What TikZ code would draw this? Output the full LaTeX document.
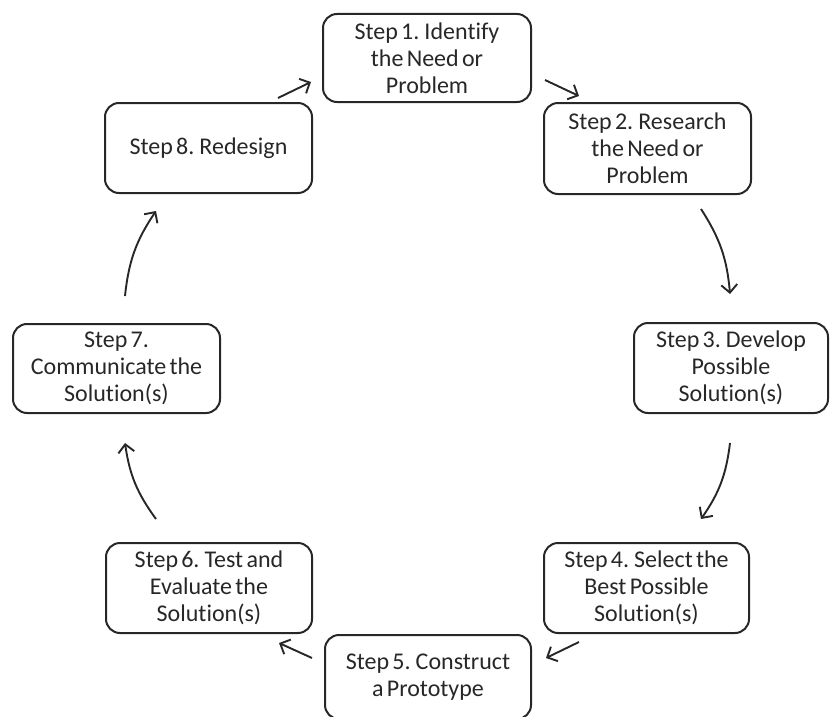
\documentclass[tikz,border=0pt]{standalone}
\usepackage{fontspec}
\setmainfont{Carlito}[Ligatures=NoCommon, WordSpace=0.6]
\usetikzlibrary{arrows.meta}
\definecolor{ink}{HTML}{272727}
\tikzset{
  stepbox/.style={draw=ink, line width=2pt, rounded corners=14pt,
    text=ink, align=center, inner sep=0pt,
    font=\fontsize{24}{27}\selectfont},
  arr/.style={draw=ink, line width=1.9pt,
    -{Straight Barb[length=8pt,width=16pt]}},
  bendarr/.style={arr, bend left=14},
}
\begin{document}
\begin{tikzpicture}[x=1pt,y=1pt]
  \path[use as bounding box, clip] (0,0) rectangle (830,-717);

  % the eight steps of the cycle
  \node[stepbox, minimum width=208pt, minimum height=88pt] (s1) at (427,-58)
    {Step 1. Identify\\the Need or\\Problem};
  \node[stepbox, minimum width=207pt, minimum height=91pt] (s2) at (647.5,-148.5)
    {Step 2. Research\\the Need or\\Problem};
  \node[stepbox, minimum width=194pt, minimum height=90pt] (s3) at (731,-368)
    {Step 3. Develop\\Possible\\Solution(s)};
  \node[stepbox, minimum width=205pt, minimum height=90pt] (s4) at (646.5,-588)
    {Step 4. Select the\\Best Possible\\Solution(s)};
  \node[stepbox, minimum width=206pt, minimum height=84pt] (s5) at (428,-677)
    {Step 5. Construct\\a Prototype};
  \node[stepbox, minimum width=206pt, minimum height=90pt] (s6) at (209,-588)
    {Step 6. Test and\\Evaluate the\\Solution(s)};
  \node[stepbox, minimum width=207pt, minimum height=89pt] (s7) at (116.5,-368.5)
    {Step 7.\\Communicate the\\Solution(s)};
  \node[stepbox, minimum width=207pt, minimum height=90pt] (s8) at (208.5,-148)
    {Step 8. Redesign};

  % arrows running clockwise round the cycle
  \draw[arr] ([shift={(-35,4)}]s8.north east) -- ([shift={(-11,-24)}]s1.west);
  \draw[arr] ([shift={(13,-22)}]s1.east) -- ([shift={(36,6)}]s2.north west);
  \draw[bendarr] ([shift={(-51,-14)}]s2.south east) to ([shift={(-1,28)}]s3.north);
  \draw[bendarr] ([shift={(-1,-29)}]s3.south) to ([shift={(-49,23)}]s4.north east);
  \draw[arr] ([shift={(36,-8)}]s4.south west) -- ([shift={(14,19)}]s5.east);
  \draw[arr] ([shift={(-12,19)}]s5.west) -- ([shift={(-34,-9)}]s6.south east);
  \draw[bendarr] ([shift={(51,23)}]s6.north west) to ([shift={(8.5,-29)}]s7.south);
  \draw[bendarr] ([shift={(8.5,27)}]s7.north) to ([shift={(52,-17)}]s8.south west);
\end{tikzpicture}
\end{document}
